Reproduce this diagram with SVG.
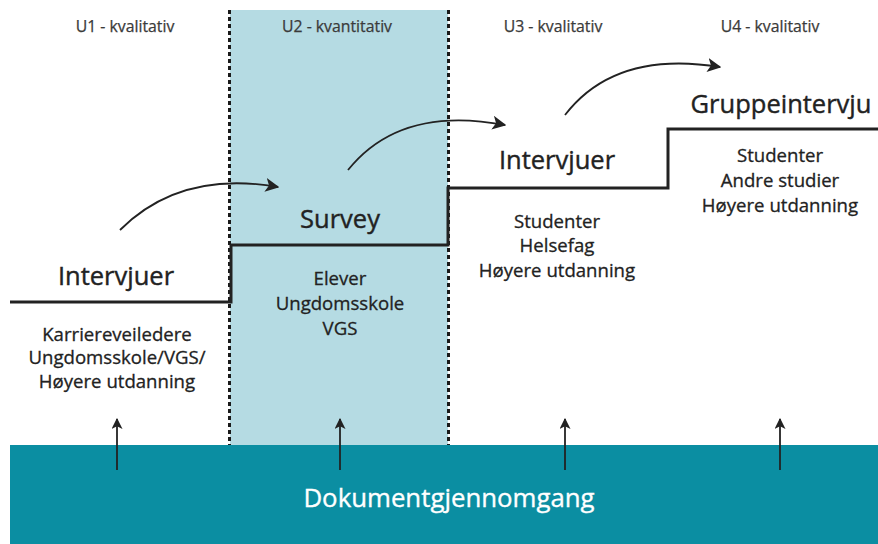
<svg xmlns="http://www.w3.org/2000/svg" width="878" height="544" viewBox="0 0 878 544">
<defs>
<style>
.hdr{font-family:"Open Sans","Noto Sans",sans-serif;font-size:15.8px;fill:#3a3a3a;stroke:#3a3a3a;stroke-width:0.25;text-anchor:middle}
.ttl{font-family:"Open Sans","Noto Sans",sans-serif;font-size:25.5px;fill:#222;stroke:#222;stroke-width:0.4;text-anchor:middle}
.sub{font-family:"Open Sans","Noto Sans",sans-serif;font-size:18.6px;fill:#222;stroke:#222;stroke-width:0.3;text-anchor:middle}
.base{font-family:"Open Sans","Noto Sans",sans-serif;font-size:25.8px;fill:#fff;stroke:#fff;stroke-width:0.35;text-anchor:middle}
.step{fill:none;stroke:#222;stroke-width:3}
.dash{fill:none;stroke:#1a1a1a;stroke-width:3;stroke-dasharray:4 3}
.arr{fill:none;stroke:#222;stroke-width:1.8}
</style>
<marker id="ah" viewBox="0 0 10 10" refX="9" refY="5" markerWidth="11" markerHeight="11" markerUnits="userSpaceOnUse" orient="auto">
<path d="M0,0 L10,5 L0,10 L2.5,5 Z" fill="#222"/>
</marker>
<marker id="ah2" viewBox="0 0 10 10" refX="9" refY="5" markerWidth="14" markerHeight="14" markerUnits="userSpaceOnUse" orient="auto">
<path d="M0,0 L10,5 L0,10 L2.5,5 Z" fill="#222"/>
</marker>
</defs>
<rect width="878" height="544" fill="#fff"/>
<g id="band-u2">
<rect x="230" y="10" width="218" height="435" fill="#b5dbe3"/>
</g>
<g id="base">
<rect x="10" y="445" width="868" height="99" fill="#0b8ea2"/>
<text class="base" x="449" y="507">Dokumentgjennomgang</text>
</g>
<g id="dividers">
<line class="dash" x1="229.5" y1="10" x2="229.5" y2="445"/>
<line class="dash" x1="448.5" y1="10" x2="448.5" y2="445"/>
</g>
<g id="steps">
<path class="step" d="M10,302 H231 V245 H448 V188 H668 V129 H878"/>
</g>
<g id="u1">
<text class="hdr" x="125" y="32">U1 - kvalitativ</text>
<text class="ttl" x="116" y="285">Intervjuer</text>
<text class="sub" x="117" y="341">Karriereveiledere</text>
<text class="sub" x="117" y="364">Ungdomsskole/VGS/</text>
<text class="sub" x="117" y="388">Høyere utdanning</text>
</g>
<g id="u2">
<text class="hdr" x="337" y="32">U2 - kvantitativ</text>
<text class="ttl" x="340" y="228">Survey</text>
<text class="sub" x="340" y="285">Elever</text>
<text class="sub" x="340" y="310">Ungdomsskole</text>
<text class="sub" x="340" y="335">VGS</text>
</g>
<g id="u3">
<text class="hdr" x="553" y="32">U3 - kvalitativ</text>
<text class="ttl" x="557" y="169">Intervjuer</text>
<text class="sub" x="557" y="228">Studenter</text>
<text class="sub" x="557" y="252">Helsefag</text>
<text class="sub" x="557" y="277">Høyere utdanning</text>
</g>
<g id="u4">
<text class="hdr" x="770" y="32">U4 - kvalitativ</text>
<text class="ttl" x="781" y="113">Gruppeintervju</text>
<text class="sub" x="780" y="162">Studenter</text>
<text class="sub" x="780" y="187">Andre studier</text>
<text class="sub" x="780" y="212">Høyere utdanning</text>
</g>
<g id="connectors">
<path class="arr" d="M120,230 Q180,170 278,187" marker-end="url(#ah2)"/>
<path class="arr" d="M348,170 Q400,105 505,125" marker-end="url(#ah2)"/>
<path class="arr" d="M565,115 Q615,50 720,67" marker-end="url(#ah2)"/>
<line class="arr" x1="117" y1="470" x2="117" y2="419" marker-end="url(#ah)"/>
<line class="arr" x1="340" y1="470" x2="340" y2="419" marker-end="url(#ah)"/>
<line class="arr" x1="565" y1="470" x2="565" y2="419" marker-end="url(#ah)"/>
<line class="arr" x1="780" y1="470" x2="780" y2="419" marker-end="url(#ah)"/>
</g>
</svg>
